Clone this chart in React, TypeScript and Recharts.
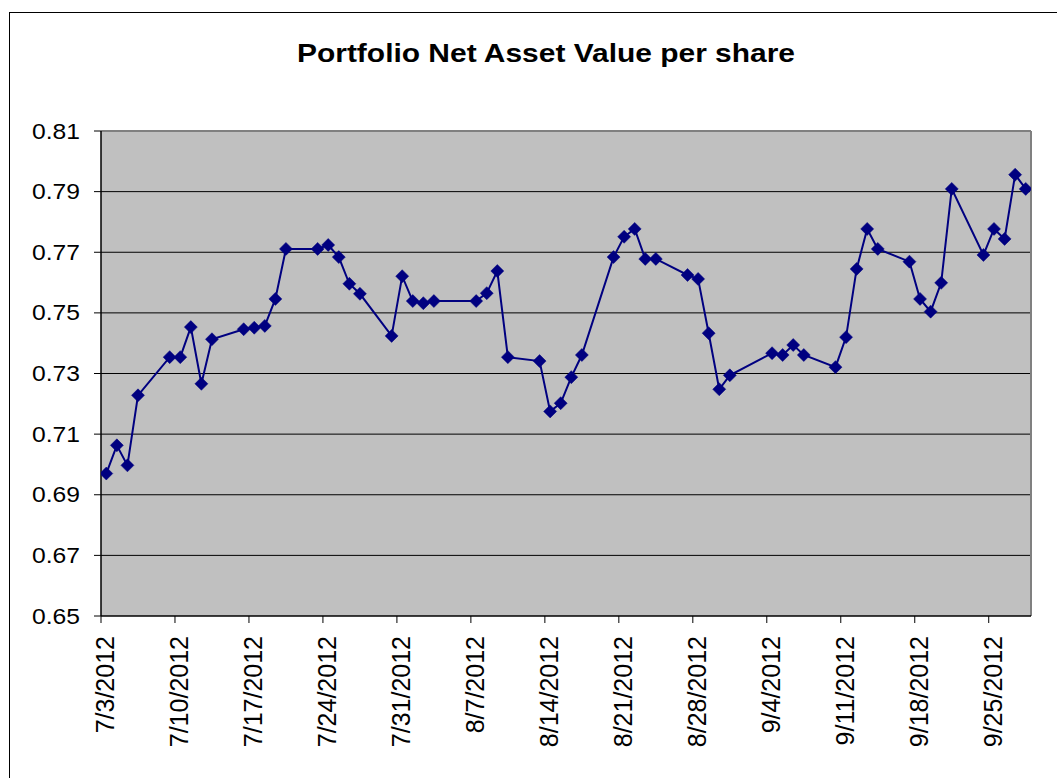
import React from "react";
import {
  LineChart,
  Line,
  XAxis,
  YAxis,
  CartesianGrid,
  ReferenceLine,
} from "recharts";

// trading dates and NAV per share
const dates = [
  "7/3/2012", "7/4/2012", "7/5/2012", "7/6/2012", "7/9/2012", "7/10/2012",
  "7/11/2012", "7/12/2012", "7/13/2012", "7/16/2012", "7/17/2012", "7/18/2012",
  "7/19/2012", "7/20/2012", "7/23/2012", "7/24/2012", "7/25/2012", "7/26/2012",
  "7/27/2012", "7/30/2012", "7/31/2012", "8/1/2012", "8/2/2012", "8/3/2012",
  "8/7/2012", "8/8/2012", "8/9/2012", "8/10/2012", "8/13/2012", "8/14/2012",
  "8/15/2012", "8/16/2012", "8/17/2012", "8/20/2012", "8/21/2012", "8/22/2012",
  "8/23/2012", "8/24/2012", "8/27/2012", "8/28/2012", "8/29/2012", "8/30/2012",
  "8/31/2012", "9/4/2012", "9/5/2012", "9/6/2012", "9/7/2012", "9/10/2012",
  "9/11/2012", "9/12/2012", "9/13/2012", "9/14/2012", "9/17/2012", "9/18/2012",
  "9/19/2012", "9/20/2012", "9/21/2012", "9/24/2012", "9/25/2012", "9/26/2012",
  "9/27/2012", "9/28/2012",
];

const navValues = [
  0.697, 0.7063, 0.6997, 0.7228, 0.7354, 0.7354,
  0.7453, 0.7266, 0.7413, 0.7446, 0.7451, 0.7457,
  0.7546, 0.7711, 0.7711, 0.7724, 0.7684, 0.7596,
  0.7563, 0.7424, 0.7621, 0.7539, 0.7532, 0.7539,
  0.7539, 0.7565, 0.7638, 0.7354, 0.7341, 0.7175,
  0.7202, 0.7288, 0.7361, 0.7684, 0.7751, 0.7777,
  0.7678, 0.7678, 0.7625, 0.7612, 0.7433, 0.7248,
  0.7294, 0.7367, 0.7361, 0.7394, 0.7361, 0.7321,
  0.742, 0.7645, 0.7777, 0.7711, 0.7669, 0.7546,
  0.7504, 0.7599, 0.7909, 0.7691, 0.7777, 0.7744,
  0.7956, 0.7909,
];

const xTickLabels = [
  "7/3/2012", "7/10/2012", "7/17/2012", "7/24/2012", "7/31/2012", "8/7/2012",
  "8/14/2012", "8/21/2012", "8/28/2012", "9/4/2012", "9/11/2012", "9/18/2012",
  "9/25/2012",
];

const yTicks = [0.65, 0.67, 0.69, 0.71, 0.73, 0.75, 0.77, 0.79, 0.81];

const lastDate = "9/28/2012";

// days since the first date
const dayIndex = (s: string) => {
  const [m, d, y] = s.split("/").map(Number);
  return (Date.UTC(y, m - 1, d) - Date.UTC(2012, 6, 3)) / 86400000;
};

const data = dates.map((d, i) => ({ date: d, x: dayIndex(d), nav: navValues[i] }));

// excel date axis: ticks sit on day boundaries, points in the middle of the day
const xTicks = xTickLabels.map((l) => dayIndex(l) - 0.5);
const xDomain = [-0.5, dayIndex(lastDate) + 0.5];

const FONT = "'Liberation Sans', Arial, sans-serif";

function Diamond(props: any) {
  const { cx, cy } = props;
  if (cx == null || cy == null) return null;
  const r = 6.5;
  return (
    <polygon
      points={`${cx},${cy - r} ${cx + r},${cy} ${cx},${cy + r} ${cx - r},${cy}`}
      fill="#000080"
      stroke="#000080"
      strokeWidth={0.5}
    />
  );
}

function YTick(props: any) {
  const { x, y, payload } = props;
  return (
    <text
      x={x - 12}
      y={y + 7.5}
      textAnchor="end"
      fontFamily={FONT}
      fontSize={21.5}
      fill="#000"
      textLength={48}
      lengthAdjust="spacingAndGlyphs"
    >
      {payload.value.toFixed(2)}
    </text>
  );
}

function XTick(props: any) {
  const { x, y, index } = props;
  const tx = x + 13;
  const ty = y + 11;
  return (
    <text
      x={tx}
      y={ty}
      transform={`rotate(-90, ${tx}, ${ty})`}
      textAnchor="end"
      fontFamily={FONT}
      fontSize={25}
      fill="#000"
    >
      {xTickLabels[index]}
    </text>
  );
}

export default function App() {
  return (
    <div
      style={{
        position: "absolute",
        left: 0,
        top: 0,
        width: 1057,
        height: 778,
        overflow: "hidden",
        background: "#fff",
      }}
    >
      <div
        style={{
          position: "absolute",
          left: 9,
          top: 12,
          width: 1100,
          height: 800,
          border: "1px solid #000",
        }}
      />
      <svg
        width={1057}
        height={80}
        style={{ position: "absolute", left: 0, top: 0 }}
      >
        <text
          x={546}
          y={62}
          textAnchor="middle"
          fontFamily={FONT}
          fontWeight="bold"
          fontSize={25}
          textLength={498}
          lengthAdjust="spacingAndGlyphs"
          fill="#000"
        >
          Portfolio Net Asset Value per share
        </text>
      </svg>
      <div style={{ position: "absolute", left: 0, top: 0 }}>
        <LineChart
          width={1057}
          height={778}
          data={data}
          margin={{ top: 131, right: 26, bottom: 0, left: 0 }}
        >
          <CartesianGrid
            fill="#C0C0C0"
            stroke="#000"
            strokeOpacity={1}
            vertical={false}
            horizontalValues={[0.67, 0.69, 0.71, 0.73, 0.75, 0.77, 0.79]}
          />
          <ReferenceLine y={0.81} stroke="#808080" strokeWidth={2} />
          <ReferenceLine x={xDomain[1]} stroke="#808080" strokeWidth={2} />
          <XAxis
            type="number"
            dataKey="x"
            domain={xDomain}
            ticks={xTicks}
            interval={0}
            height={162}
            tickSize={7}
            stroke="#000"
            axisLine={{ stroke: "#000", strokeWidth: 1.5 }}
            tickLine={{ stroke: "#000" }}
            tick={<XTick />}
            allowDataOverflow
          />
          <YAxis
            type="number"
            domain={[0.65, 0.81]}
            ticks={yTicks}
            interval={0}
            width={101}
            tickSize={7}
            axisLine={{ stroke: "#000", strokeWidth: 1.5 }}
            tickLine={{ stroke: "#000" }}
            tick={<YTick />}
            allowDataOverflow
          />
          <Line
            type="linear"
            dataKey="nav"
            stroke="#000080"
            strokeWidth={2}
            dot={<Diamond />}
            activeDot={false}
            isAnimationActive={false}
          />
        </LineChart>
      </div>
    </div>
  );
}
